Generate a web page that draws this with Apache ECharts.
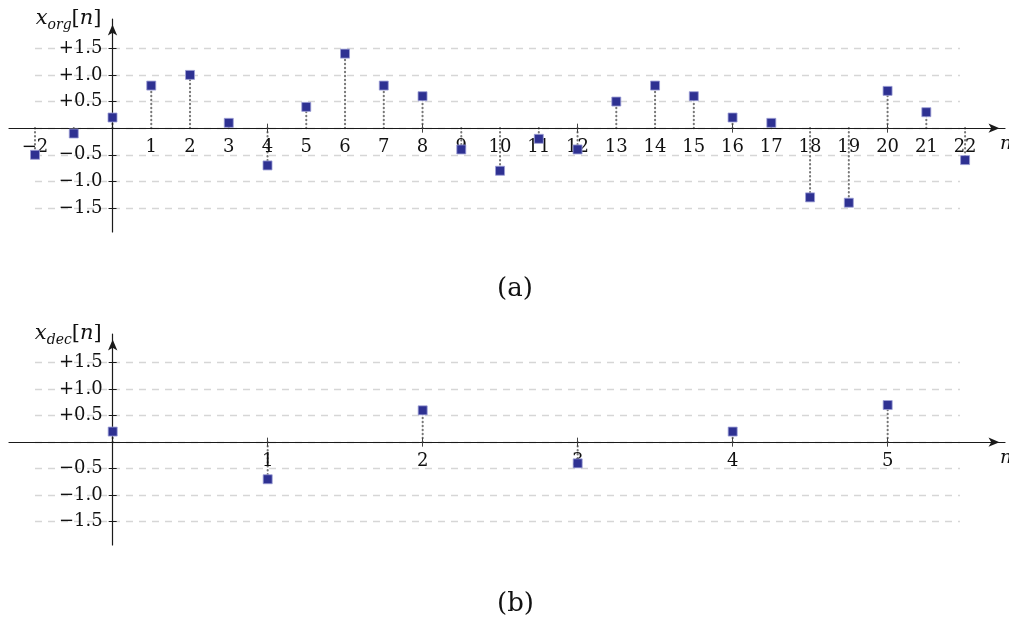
<!DOCTYPE html>
<html>
<head>
<meta charset="utf-8">
<script src="https://cdn.jsdelivr.net/npm/echarts@6/dist/echarts.min.js"></script>
<style>html,body{margin:0;padding:0;background:#fff;}#c{width:1009px;height:619px;}</style>
</head>
<body>
<div id="c"></div>
<script>
// ---- data ----
const nOrg = [-2,-1,0,1,2,3,4,5,6,7,8,9,10,11,12,13,14,15,16,17,18,19,20,21,22];
const xOrg = [-0.5,-0.1,0.2,0.8,1.0,0.1,-0.7,0.4,1.4,0.8,0.6,-0.4,-0.8,-0.2,-0.4,0.5,0.8,0.6,0.2,0.1,-1.3,-1.4,0.7,0.3,-0.6];
const nDec = [0,1,2,3,4,5];
const xDec = [0.2,-0.7,0.6,-0.4,0.2,0.7];
const orgTickLabels = [-2,1,2,3,4,5,6,7,8,9,10,11,12,13,14,15,16,17,18,19,20,21,22];
const orgTicks = [4,8,12,16,20];
const decTickLabels = [1,2,3,4,5];
const yTickValues = [-1.5,-1.0,-0.5,0.5,1.0,1.5];

const FONT = 'DejaVu Serif';
const AX = '#1a1a1a';
const minus = s => String(s).replace('-', '\u2212');

// panel layouts (pixels) and axis ranges
const P = [
  { left: 9, width: 996, top: 19, height: 213, xmin: -2.671, xmax: 23.03, ymin: -1.95, ymax: 2.05 },
  { left: 9, width: 996, top: 334, height: 211, xmin: -0.669, xmax: 5.757, ymin: -1.94, ymax: 2.04 }
];
// distance from grid edges to the zero lines
P.forEach(p => {
  p.zeroFromTop = p.height * p.ymax / (p.ymax - p.ymin);
  p.zeroFromLeft = p.width * (0 - p.xmin) / (p.xmax - p.xmin);
});

function stemSeries(xi, yi, n, v) {
  return {
    type: 'custom', xAxisIndex: xi, yAxisIndex: yi, z: 2, silent: true,
    data: n.map((k, i) => [k, v[i]]),
    renderItem: function (params, api) {
      const p0 = api.coord([api.value(0), 0]);
      const p1 = api.coord([api.value(0), api.value(1)]);
      return { type: 'line', shape: { x1: p0[0], y1: p0[1], x2: p1[0], y2: p1[1] },
        style: { stroke: '#777777', lineWidth: 2.1, lineDash: [0.3, 3.7], lineCap: 'round' } };
    }
  };
}
function markSeries(xi, yi, n, v) {
  return {
    type: 'scatter', xAxisIndex: xi, yAxisIndex: yi, z: 5, silent: true,
    symbol: 'rect', symbolSize: 9,
    itemStyle: { color: '#2e3192', borderColor: '#9c9ed6', borderWidth: 0.8, opacity: 1 },
    data: n.map((k, i) => [k, v[i]])
  };
}
function mainX(g, ticks, labels) {
  const p = P[g];
  return {
    type: 'value', gridIndex: g, min: p.xmin, max: p.xmax, position: 'bottom',
    offset: -(p.height - p.zeroFromTop), z: 3,
    axisLine: { show: true, onZero: false, symbol: ['none', 'arrow'], symbolSize: [7, 11], symbolOffset: [0, -5.5],
      lineStyle: { color: AX, width: 1.2 } },
    axisTick: { show: true, customValues: ticks, length: 4.5, lineStyle: { color: '#444', width: 1 } },
    axisLabel: { show: true, customValues: labels, margin: 10, fontFamily: FONT, fontSize: 18, color: '#111',
      formatter: v => minus(v) },
    splitLine: { show: false },
    name: 'n', nameLocation: 'end', nameGap: -5,
    nameTextStyle: { fontFamily: FONT, fontStyle: 'italic', fontSize: 19, color: '#111', verticalAlign: 'top', padding: [6, 0, 0, 0] }
  };
}
function mirrorX(g, ticks) {
  const p = P[g];
  return {
    type: 'value', gridIndex: g, min: p.xmin, max: p.xmax, position: 'top',
    offset: -p.zeroFromTop, z: 3,
    axisLine: { show: false, onZero: false },
    axisTick: { show: true, customValues: ticks, length: 4.5, lineStyle: { color: '#444', width: 1 } },
    axisLabel: { show: false }, splitLine: { show: false }
  };
}
function mainY(g, sub) {
  const p = P[g];
  return {
    type: 'value', gridIndex: g, min: p.ymin, max: p.ymax, position: 'left',
    offset: -p.zeroFromLeft, z: 3,
    axisLine: { show: true, onZero: false, symbol: ['none', 'arrow'], symbolSize: [7, 11], symbolOffset: [0, -5.5],
      lineStyle: { color: AX, width: 1.2 } },
    axisTick: { show: true, customValues: yTickValues, length: 4, lineStyle: { color: AX, width: 1 } },
    axisLabel: { show: true, customValues: yTickValues, margin: 10, fontFamily: FONT, fontSize: 18, color: '#111',
      formatter: v => (v > 0 ? '+' : '\u2212') + Math.abs(v).toFixed(1) },
    splitLine: { show: false },
    name: '{v|x}{s|' + sub + '}{b|[}{v|n}{b|]}', nameLocation: 'end', nameGap: 0,
    nameTextStyle: { align: 'right', verticalAlign: 'middle', padding: [0, 11, 0, 0],
      rich: {
        v: { fontFamily: FONT, fontStyle: 'italic', fontSize: 21, color: '#111', lineHeight: 26, verticalAlign: 'middle' },
        b: { fontFamily: FONT, fontSize: 21, color: '#111', lineHeight: 26, verticalAlign: 'middle' },
        s: { fontFamily: FONT, fontStyle: 'italic', fontSize: 14, color: '#111', lineHeight: 14, verticalAlign: 'bottom' }
      } }
  };
}
function mirrorY(g) {
  const p = P[g];
  return {
    type: 'value', gridIndex: g, min: p.ymin, max: p.ymax, position: 'right',
    offset: -(p.width - p.zeroFromLeft), z: 3,
    axisLine: { show: false, onZero: false },
    axisTick: { show: true, customValues: yTickValues, length: 4, lineStyle: { color: AX, width: 1 } },
    axisLabel: { show: false }, splitLine: { show: false }
  };
}
function bgX(grid) {
  return { type: 'value', gridIndex: grid, min: 0, max: 1, show: false };
}
function bgY(grid) {
  return { type: 'value', gridIndex: grid, min: -1.5, max: 1.5, interval: 0.5, z: 0,
    axisLine: { show: false }, axisTick: { show: false }, axisLabel: { show: false },
    splitLine: { show: true, lineStyle: { color: '#d6d6d6', width: 1.3, type: [7, 6] } } };
}
function gridOf(p) {
  return { left: p.left, width: p.width, top: p.top, height: p.height, containLabel: false, outerBoundsMode: 'none' };
}

const chart = echarts.init(document.getElementById('c'), null, { renderer: 'canvas' });
chart.setOption({
  animation: false,
  backgroundColor: '#fff',
  title: [
    { text: '(a)', left: 492, top: 271, textStyle: { fontFamily: FONT, fontSize: 26, fontWeight: 'normal', color: '#111' } },
    { text: '(b)', left: 492, top: 586, textStyle: { fontFamily: FONT, fontSize: 26, fontWeight: 'normal', color: '#111' } }
  ],
  grid: [
    gridOf(P[0]),
    gridOf(P[1]),
    { left: 35, width: 925, top: 48.3, height: 160, outerBoundsMode: 'none' },
    { left: 35, width: 925, top: 362.6, height: 159, outerBoundsMode: 'none' }
  ],
  xAxis: [
    mainX(0, orgTicks, orgTickLabels),
    mirrorX(0, orgTicks),
    mainX(1, decTickLabels, decTickLabels),
    mirrorX(1, decTickLabels),
    bgX(2), bgX(3)
  ],
  yAxis: [
    mainY(0, 'org'),
    mirrorY(0),
    mainY(1, 'dec'),
    mirrorY(1),
    bgY(2), bgY(3)
  ],
  series: [
    stemSeries(0, 0, nOrg, xOrg),
    markSeries(0, 0, nOrg, xOrg),
    stemSeries(2, 2, nDec, xDec),
    markSeries(2, 2, nDec, xDec)
  ]
});
</script>
</body>
</html>
